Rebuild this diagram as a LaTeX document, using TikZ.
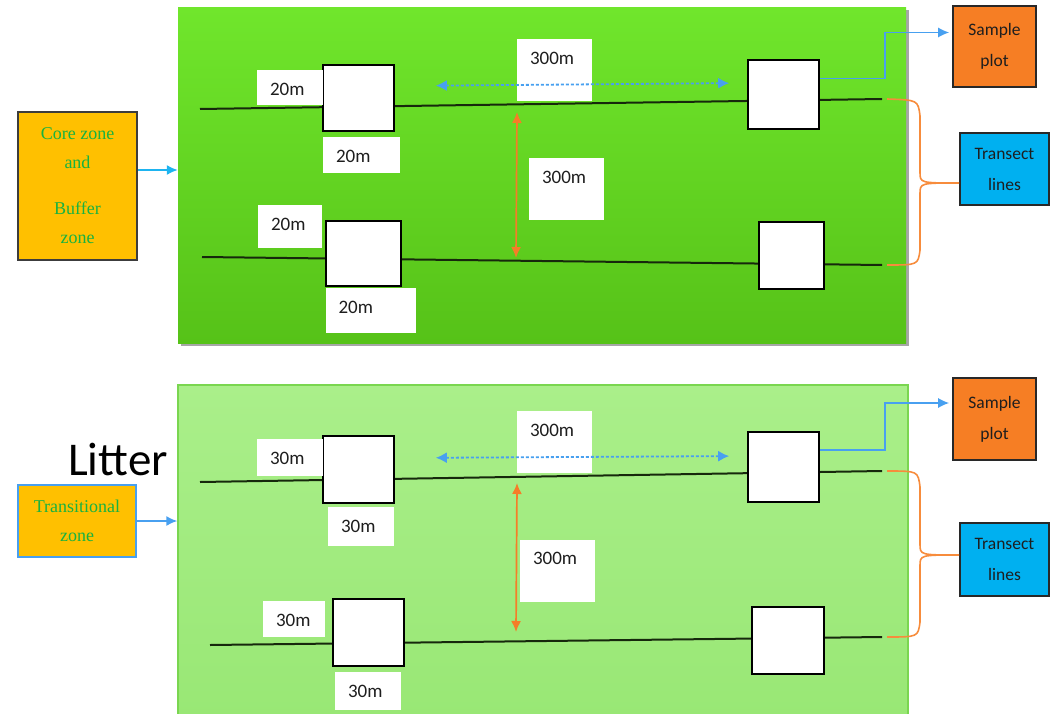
\documentclass[tikz,border=0pt]{standalone}
\usepackage{fontspec}
\setmainfont{Carlito}
\newfontfamily\zonefont{Liberation Serif}
\usetikzlibrary{arrows.meta,shadows}

\definecolor{brightgrass}{RGB}{112,230,44}
\definecolor{darkgrass}{RGB}{86,194,24}
\definecolor{palegrass}{RGB}{170,239,138}
\definecolor{palegrassdark}{RGB}{152,231,116}
\definecolor{paleedge}{RGB}{122,214,80}
\definecolor{zoneyellow}{RGB}{255,192,0}
\definecolor{zonegreen}{RGB}{24,178,64}
\definecolor{zoneedge}{RGB}{60,60,60}
\definecolor{plotorange}{RGB}{246,126,36}
\definecolor{lineblue}{RGB}{0,176,240}
\definecolor{skyarrow}{RGB}{30,180,240}
\definecolor{arrowblue}{RGB}{72,160,240}
\definecolor{braceorange}{RGB}{247,140,60}
\definecolor{gaporange}{RGB}{245,125,40}
\definecolor{linedark}{RGB}{22,40,12}
\definecolor{textgray}{RGB}{30,30,30}
\definecolor{keyedge}{RGB}{40,40,40}

\begin{document}
\begin{tikzpicture}[x=1pt,y=-1pt,
  panel/.style={inner sep=0pt},
  zonebox/.style={fill=zoneyellow,line width=1.6pt,inner sep=0pt,align=center,text=zonegreen,font=\zonefont\fontsize{18}{29}\selectfont},
  keybox/.style={draw=keyedge,line width=1.6pt,inner sep=0pt,align=center,text=textgray,font=\fontsize{17.5}{31}\selectfont},
  plot/.style={draw=black,fill=white,line width=1.6pt,inner sep=0pt},
  dimbox/.style={fill=white,inner sep=0pt},
  dimtext/.style={anchor=north west,xshift=13pt,yshift=-13pt,inner sep=0pt,text=textgray,font=\fontsize{19}{22}\selectfont},
  transect/.style={line width=2pt,draw=linedark},
  plotspacing/.style={densely dashed,line width=1.8pt,draw=arrowblue,{Latex[length=11pt,width=11pt]}-{Latex[length=11pt,width=11pt]}},
  linegap/.style={line width=1.7pt,draw=gaporange,{Latex[length=11pt,width=10pt]}-{Latex[length=11pt,width=10pt]}},
  feed/.style={line width=1.6pt,-{Latex[length=11pt,width=10pt]}},
  elbow/.style={line width=1.5pt,draw=arrowblue,-{Latex[length=11pt,width=10pt]},shorten >=3pt},
  brace/.style={line width=1.6pt,draw=braceorange}]
\useasboundingbox (0,0) rectangle (1051,714);

% core and buffer zone
\node[panel,minimum width=728,minimum height=335,top color=brightgrass,bottom color=darkgrass,
  drop shadow={shadow xshift=2.5pt,shadow yshift=-2.5pt,opacity=.35,fill=black}] (upper) at (542,175.5) {};

\coordinate (u1s) at (200,109);
\coordinate (u1e) at (882,99);
\coordinate (u2s) at (202,257);
\coordinate (u2e) at (882,265);
\draw[transect] (u1s) -- (u1e);
\draw[transect] (u2s) -- (u2e);

\node[plot,minimum width=71,minimum height=66] (ua1) at (358.5,98) {};
\node[plot,minimum width=71,minimum height=69] (ua2) at (783.5,94.5) {};
\node[plot,minimum width=75,minimum height=65] (ub1) at (363.5,253.5) {};
\node[plot,minimum width=65,minimum height=67] (ub2) at (791.5,255.5) {};

\node[dimbox,minimum width=66,minimum height=35,label={[dimtext]north west:20m}] (ua1w) at (290,87.5) {};
\node[dimbox,minimum width=77,minimum height=36,label={[dimtext]north west:20m}] (ua1s) at (361.5,155) {};
\node[dimbox,minimum width=64,minimum height=43,label={[dimtext]north west:20m}] (ub1w) at (290,226.5) {};
\node[dimbox,minimum width=90,minimum height=45,label={[dimtext]north west:20m}] (ub1s) at (370.5,310.5) {};
\node[dimbox,minimum width=75,minimum height=62,label={[dimtext]north west:300m}] (ualong) at (554.5,70) {};
\node[dimbox,minimum width=75,minimum height=62,label={[dimtext]north west:300m}] (uacross) at (566.5,189) {};

\draw[plotspacing,shorten <=41pt,shorten >=18pt] ([yshift=12pt]ua1.east) -- ([yshift=11.5pt]ua2.west);
\coordinate (ug1) at (517,112);
\coordinate (ug2) at (516,258);
\draw[linegap] (ug1) -- (ug2);

% transitional zone
\node[panel,minimum width=730,minimum height=345,draw=paleedge,line width=1.4pt,
  top color=palegrass,bottom color=palegrassdark] (lower) at (543,557.5) {};

\coordinate (l1s) at (200,482);
\coordinate (l1e) at (882,471);
\coordinate (l2s) at (210,645);
\coordinate (l2e) at (882,637);
\draw[transect] (l1s) -- (l1e);
\draw[transect] (l2s) -- (l2e);

\node[plot,minimum width=71,minimum height=67] (la1) at (358.5,469.5) {};
\node[plot,minimum width=71,minimum height=70] (la2) at (783.5,467) {};
\node[plot,minimum width=71,minimum height=67] (lb1) at (368.5,632.5) {};
\node[plot,minimum width=72,minimum height=67] (lb2) at (788,640.5) {};

\node[dimbox,minimum width=66,minimum height=37,label={[dimtext]north west:30m}] (la1w) at (290,457.5) {};
\node[dimbox,minimum width=66,minimum height=39,label={[dimtext]north west:30m}] (la1s) at (361,526.5) {};
\node[dimbox,minimum width=62,minimum height=36,label={[dimtext]north west:30m}] (lb1w) at (294,619) {};
\node[dimbox,minimum width=66,minimum height=38,label={[dimtext]north west:30m}] (lb1s) at (368,691) {};
\node[dimbox,minimum width=75,minimum height=62,label={[dimtext]north west:300m}] (lalong) at (554.5,442) {};
\node[dimbox,minimum width=75,minimum height=62,label={[dimtext]north west:300m}] (lacross) at (557.5,570.5) {};

\draw[plotspacing,shorten <=41pt,shorten >=18pt] ([yshift=11.5pt]la1.east) -- ([yshift=11pt]la2.west);
\coordinate (lg1) at (517,483);
\coordinate (lg2) at (516,632);
\draw[linegap] (lg1) -- (lg2);

% zone keys
\node[zonebox,draw=zoneedge,minimum width=119,minimum height=148] (core) at (77.5,186)
  {Core zone\\and\\[17pt]Buffer\\zone};
\node[zonebox,draw=arrowblue,line width=1.3pt,minimum width=118,minimum height=72] (trans) at (77,521)
  {Transitional\\zone};
\node[font=\fontsize{47}{50}\selectfont] (litter) at (118,460) {Litter};
\draw[feed,draw=skyarrow] ([yshift=16pt]core.east) -- ([yshift=16pt]core.east -| upper.west);
\draw[feed,draw=arrowblue] (trans.east) -- (trans.east -| lower.west);

% plot and line keys
\node[keybox,fill=plotorange,minimum width=83,minimum height=81] (upkey) at (994.5,46.5) {Sample\\plot};
\node[keybox,fill=lineblue,minimum width=89,minimum height=72] (ulkey) at (1004.5,169) {Transect\\lines};
\node[keybox,fill=plotorange,minimum width=83,minimum height=82] (lpkey) at (994.5,419) {Sample\\plot};
\node[keybox,fill=lineblue,minimum width=89,minimum height=73] (llkey) at (1004.5,559.5) {Transect\\lines};

\draw[elbow] ([yshift=16pt]ua2.east) -- ++(65,0) |- ([yshift=14pt]upkey.west);
\draw[elbow] ([yshift=17pt]la2.east) -- ++(65,0) |- ([yshift=16pt]lpkey.west);

\draw[brace] ([xshift=5pt]u1e) .. controls (918,100) .. (920,116) -- (920,172)
  .. controls (920,183) .. ([yshift=-14pt]ulkey.west)
  .. controls (920,183) .. (920,194) -- (920,250) .. controls (918,265) .. ([xshift=5pt]u2e);
\draw[brace] ([xshift=5pt]l1e) .. controls (918,471) .. (920,487) -- (920,544)
  .. controls (920,555) .. ([yshift=4.5pt]llkey.west)
  .. controls (920,555) .. (920,566) -- (920,622) .. controls (918,637) .. ([xshift=5pt]l2e);
\end{tikzpicture}
\end{document}
